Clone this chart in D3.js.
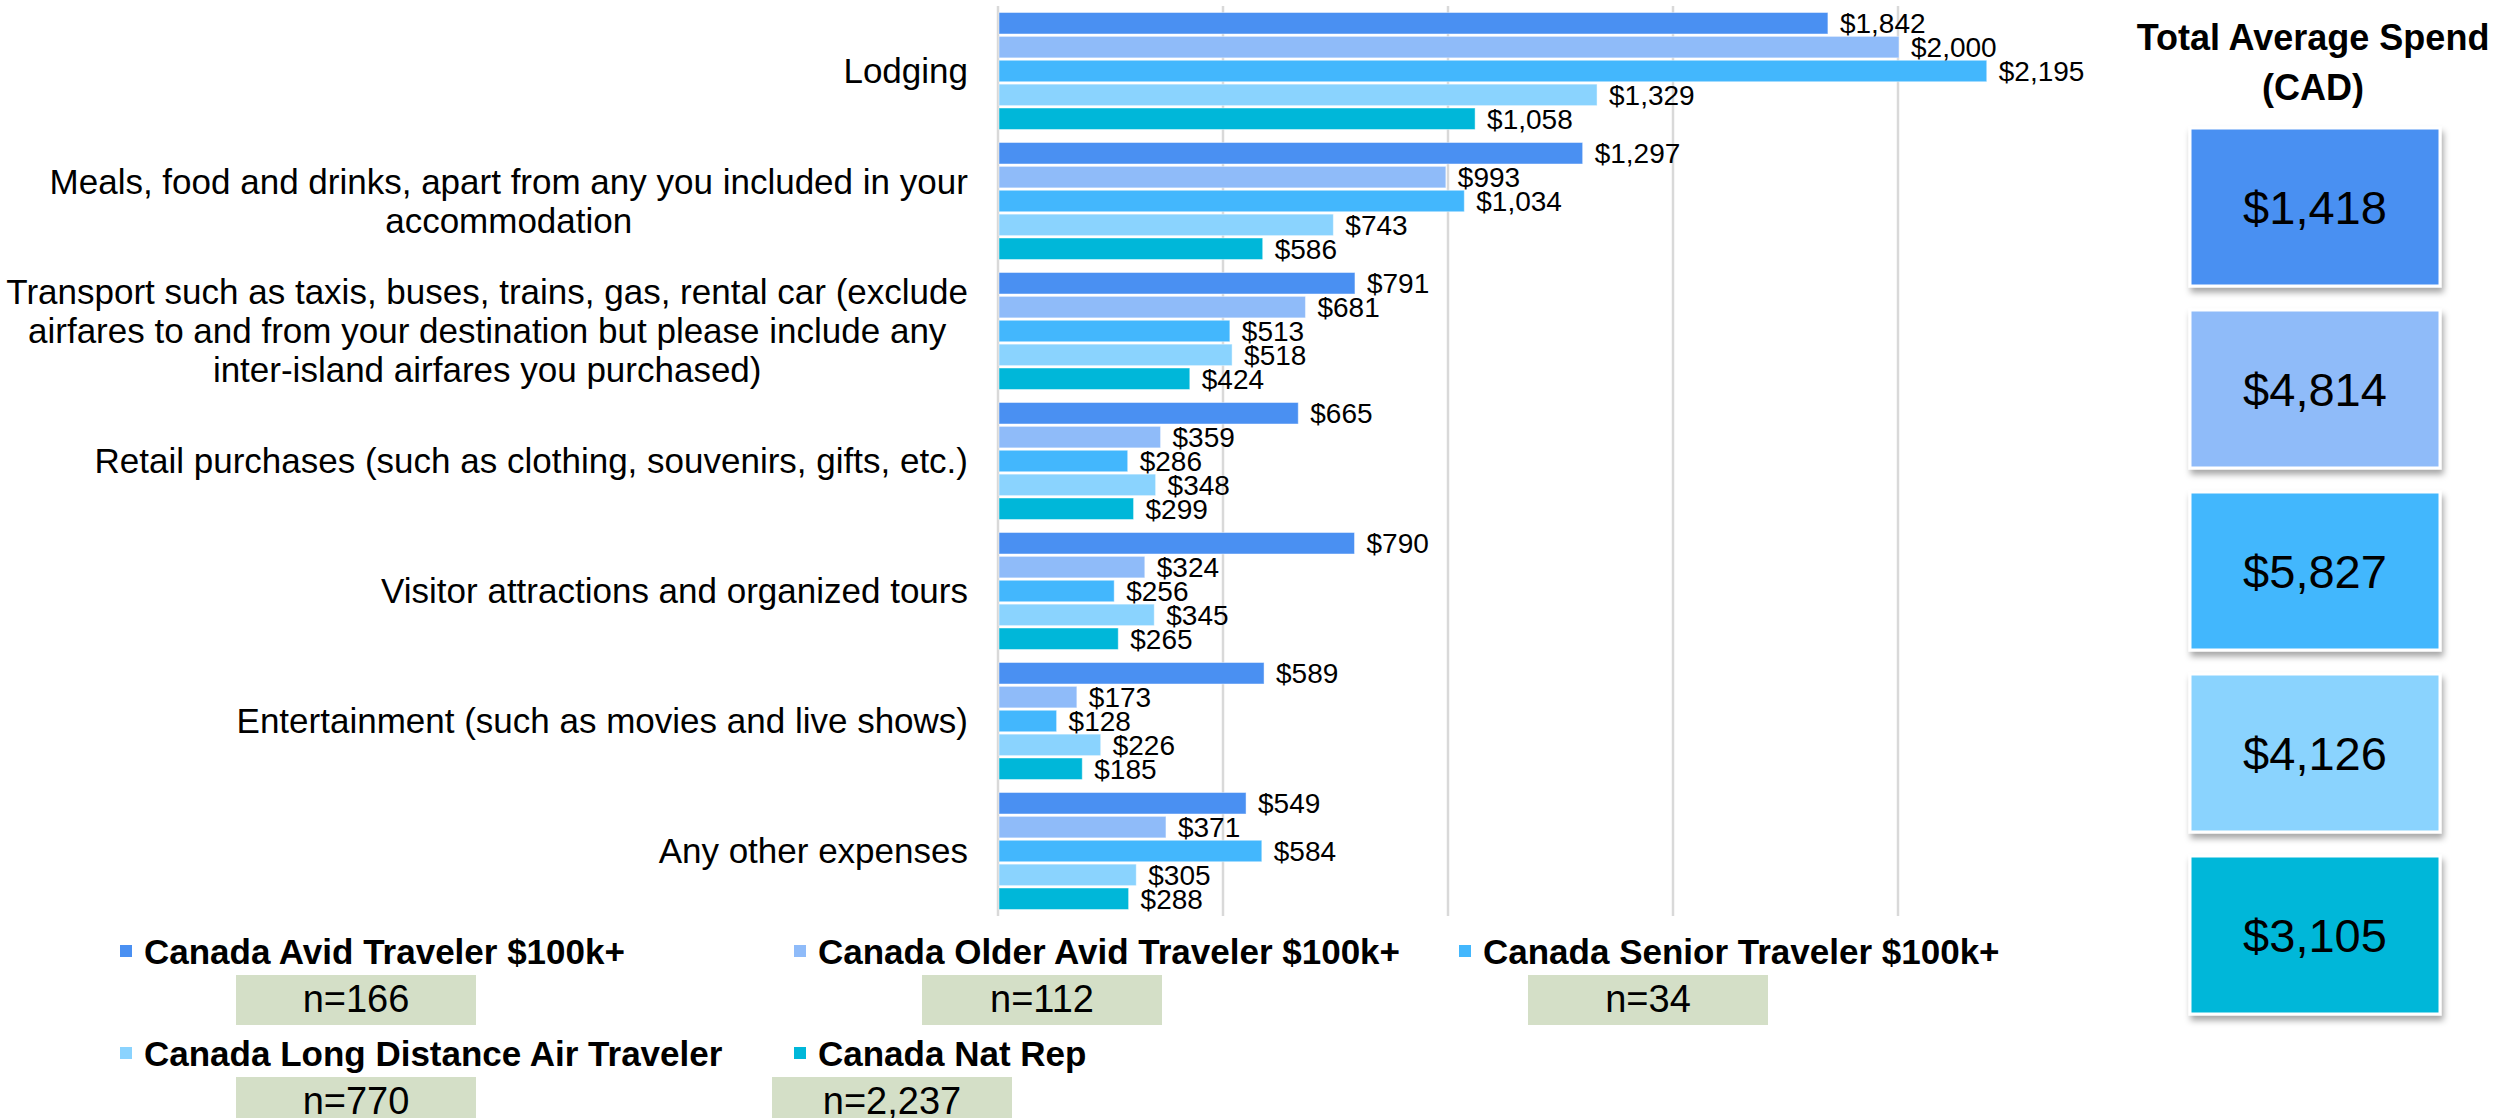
<!DOCTYPE html>
<html>
<head>
<meta charset="utf-8">
<script src="https://cdn.jsdelivr.net/npm/d3@7"></script>
<style>
  body { margin: 0; background: #fff; }
  text { font-family: "Liberation Sans", Arial, sans-serif; fill: #000; }
</style>
</head>
<body>
<script>
// categories, one entry per row group (lines as shown in the chart)
var categories = [
    ["Lodging"],
    ["Meals, food and drinks, apart from any you included in your", "accommodation"],
    ["Transport such as taxis, buses, trains, gas, rental car (exclude", "airfares to and from your destination but please include any", "inter-island airfares you purchased)"],
    ["Retail purchases (such as clothing, souvenirs, gifts, etc.)"],
    ["Visitor attractions and organized tours"],
    ["Entertainment (such as movies and live shows)"],
    ["Any other expenses"]
];

var seriesNames = [
    "Canada Avid Traveler $100k+",
    "Canada Older Avid Traveler $100k+",
    "Canada Senior Traveler $100k+",
    "Canada Long Distance Air Traveler",
    "Canada Nat Rep"
];

var avidTraveler = [1842, 1297, 791, 665, 790, 589, 549];
var olderAvidTraveler = [2000, 993, 681, 359, 324, 173, 371];
var seniorTraveler = [2195, 1034, 513, 286, 256, 128, 584];
var longDistanceAir = [1329, 743, 518, 348, 345, 226, 305];
var natRep = [1058, 586, 424, 299, 265, 185, 288];

var totalSpend = [1418, 4814, 5827, 4126, 3105];
var sampleSizes = [166, 112, 34, 770, 2237];
var xTicks = [0, 500, 1000, 1500, 2000];

var seriesValues = [avidTraveler, olderAvidTraveler, seniorTraveler, longDistanceAir, natRep];
var colors = ["#4a90f2", "#8fbbf9", "#43b7fd", "#8ad3fe", "#00b7d9"];

var width = 2501, height = 1118;
var money = d3.format("$,");

var svg = d3.select("body").append("svg")
    .attr("width", width)
    .attr("height", height);

var defs = svg.append("defs");
defs.append("filter").attr("id", "shadow")
    .attr("x", "-10%").attr("y", "-10%").attr("width", "130%").attr("height", "130%")
  .append("feDropShadow")
    .attr("dx", 2).attr("dy", 5).attr("stdDeviation", 3)
    .attr("flood-color", "#000").attr("flood-opacity", 0.35);

var x = d3.scaleLinear().domain([0, 2500]).range([999, 2124]);
var y0 = d3.scaleBand().domain(d3.range(categories.length))
    .range([6, 916]).paddingInner(0.1).paddingOuter(0.05);
var y1 = d3.scaleBand().domain(d3.range(seriesNames.length))
    .range([0, y0.bandwidth()]).paddingInner(0.1);

// gridlines
var grid = svg.append("g")
    .attr("transform", "translate(0,916)")
    .call(d3.axisBottom(x).tickValues(xTicks).tickSize(-910).tickFormat(""));
grid.select(".domain").remove();
grid.selectAll(".tick line")
    .attr("stroke", "#d9d9d9")
    .attr("stroke-width", 2.5)
    .attr("transform", "translate(-1.5,0)");

// bars
var groups = svg.selectAll(".cat")
    .data(categories)
    .enter().append("g")
      .attr("class", "cat")
      .attr("transform", function (d, i) { return "translate(0," + y0(i) + ")"; });

groups.each(function (d, i) {
    var g = d3.select(this);
    var rows = seriesValues.map(function (vals, j) { return { s: j, v: vals[i] }; });

    g.selectAll("rect")
        .data(rows)
        .enter().append("rect")
          .attr("x", x(0))
          .attr("y", function (r) { return y1(r.s); })
          .attr("width", function (r) { return x(r.v) - x(0); })
          .attr("height", y1.bandwidth())
          .attr("fill", function (r) { return colors[r.s]; })
          .attr("stroke", "#fff")
          .attr("stroke-opacity", 0.45)
          .attr("stroke-width", 1);

    g.selectAll(".val")
        .data(rows)
        .enter().append("text")
          .attr("class", "val")
          .attr("x", function (r) { return x(r.v) + 12; })
          .attr("y", function (r) { return y1(r.s) + y1.bandwidth() / 2; })
          .attr("dy", "0.36em")
          .style("font-size", "28px")
          .text(function (r) { return money(r.v); });
});

// category labels, block centred, right edge on 968
var lineH = 39;
var labels = svg.selectAll(".catlab")
    .data(categories)
    .enter().append("text")
      .attr("class", "catlab")
      .attr("text-anchor", "middle")
      .style("font-size", "35px");

labels.each(function (lines, i) {
    var t = d3.select(this);
    var cy = y0(i) + y0.bandwidth() / 2 - (lines.length - 1) * lineH / 2;
    lines.forEach(function (line, k) {
        t.append("tspan")
            .attr("x", 0)
            .attr("y", cy + k * lineH)
            .attr("dy", "0.35em")
            .text(line);
    });
    var w = this.getBBox().width;
    t.attr("transform", "translate(" + (968 - w / 2) + ",0)");
});

// right panel
var panelX = 2190, panelW = 250, boxH = 158, boxTop = 128, boxStep = 182;
svg.append("text")
    .attr("x", 2313).attr("y", 50)
    .attr("text-anchor", "middle")
    .style("font-size", "36px").style("font-weight", "bold")
    .text("Total Average Spend");
svg.append("text")
    .attr("x", 2313).attr("y", 100)
    .attr("text-anchor", "middle")
    .style("font-size", "36px").style("font-weight", "bold")
    .text("(CAD)");

var totals = svg.selectAll(".total")
    .data(totalSpend)
    .enter().append("g")
      .attr("class", "total")
      .attr("transform", function (d, i) { return "translate(" + panelX + "," + (boxTop + i * boxStep) + ")"; });

totals.append("rect")
    .attr("width", panelW)
    .attr("height", boxH)
    .attr("fill", function (d, i) { return colors[i]; })
    .attr("stroke", "#fff")
    .attr("stroke-width", 3)
    .attr("filter", "url(#shadow)");

totals.append("text")
    .attr("x", panelW / 2)
    .attr("y", boxH / 2)
    .attr("dy", "0.36em")
    .attr("text-anchor", "middle")
    .style("font-size", "47px")
    .text(function (d) { return money(d); });

// legend
var legendPos = [[120, 951], [794, 951], [1459, 951], [120, 1053], [794, 1053]];
var nBoxX = [236, 922, 1528, 236, 772];
var nBoxW = 240, nBoxH = 50;

var legend = svg.selectAll(".leg")
    .data(seriesNames)
    .enter().append("g")
      .attr("class", "leg");

legend.append("rect")
    .attr("x", function (d, i) { return legendPos[i][0]; })
    .attr("y", function (d, i) { return legendPos[i][1] - 6; })
    .attr("width", 12)
    .attr("height", 12)
    .attr("fill", function (d, i) { return colors[i]; });

legend.append("text")
    .attr("x", function (d, i) { return legendPos[i][0] + 24; })
    .attr("y", function (d, i) { return legendPos[i][1]; })
    .attr("dy", "0.36em")
    .style("font-size", "35px")
    .style("font-weight", "bold")
    .text(function (d) { return d; });

legend.append("rect")
    .attr("x", function (d, i) { return nBoxX[i]; })
    .attr("y", function (d, i) { return legendPos[i][1] + 24; })
    .attr("width", nBoxW)
    .attr("height", nBoxH)
    .attr("fill", "#d4dfc7");

legend.append("text")
    .attr("x", function (d, i) { return nBoxX[i] + nBoxW / 2; })
    .attr("y", function (d, i) { return legendPos[i][1] + 23 + nBoxH / 2; })
    .attr("dy", "0.34em")
    .attr("text-anchor", "middle")
    .style("font-size", "38px")
    .text(function (d, i) { return "n=" + d3.format(",")(sampleSizes[i]); });
</script>
</body>
</html>
